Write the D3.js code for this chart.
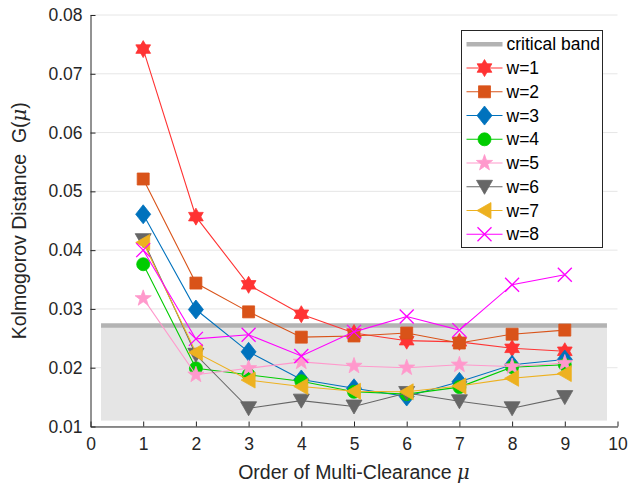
<!DOCTYPE html>
<html>
<head>
<meta charset="utf-8">
<script src="https://cdn.jsdelivr.net/npm/d3@7"></script>
<style>
body { margin: 0; background: #fff; }
svg { font-family: "Liberation Sans", Arial, sans-serif; }
</style>
</head>
<body>
<svg id="chart" width="630" height="488"></svg>
<script>
// data
var orders = [1, 2, 3, 4, 5, 6, 7, 8, 9];
var w1 = [0.0742, 0.0457, 0.0341, 0.0291, 0.0259, 0.0246, 0.0244, 0.0233, 0.0228];
var w2 = [0.0521, 0.0344, 0.0295, 0.0252, 0.0254, 0.0259, 0.0242, 0.0257, 0.0264];
var w3 = [0.0461, 0.0299, 0.0227, 0.0180, 0.0165, 0.0151, 0.0176, 0.0205, 0.0214];
var w4 = [0.0376, 0.0199, 0.0188, 0.0177, 0.0159, 0.0155, 0.0167, 0.0201, 0.0205];
var w5 = [0.0318, 0.0188, 0.0199, 0.0210, 0.0203, 0.0200, 0.0205, 0.0202, 0.0208];
var w6 = [0.0417, 0.0222, 0.0131, 0.0144, 0.0134, 0.0157, 0.0143, 0.0131, 0.0150];
var w7 = [0.0413, 0.0226, 0.0179, 0.0168, 0.0160, 0.0159, 0.0169, 0.0182, 0.0190];
var w8 = [0.0400, 0.0249, 0.0256, 0.0220, 0.0261, 0.0287, 0.0264, 0.0341, 0.0358];
var seriesNames = ["w=1", "w=2", "w=3", "w=4", "w=5", "w=6", "w=7", "w=8"];
var bandX = [0.2, 9.8];
var bandY = [0.011, 0.0272];
var xTicks = [0, 1, 2, 3, 4, 5, 6, 7, 8, 9, 10];
var yTicks = [0.01, 0.02, 0.03, 0.04, 0.05, 0.06, 0.07, 0.08];

var allSeries = [w1, w2, w3, w4, w5, w6, w7, w8];
var colors = ["#ff3333", "#d95319", "#0072bd", "#00cc00", "#ff99cc", "#666666", "#edb120", "#ff00ff"];
var shapes = ["hexagram", "square", "diamond", "circle", "star", "tridown", "trileft", "cross"];

var svg = d3.select("#chart");
var pLeft = 90.5, pRight = 617.5, pTop = 15, pBottom = 426.5;
var x = d3.scaleLinear().domain([0, 10]).range([pLeft, pRight]);
var y = d3.scaleLinear().domain([0.01, 0.08]).range([pBottom, pTop]);

// marker paths, centred on 0,0
function markerPath(type) {
    var p = d3.path();
    if (type == "hexagram") {
	var r = 8.5;
	for (var t = 0; t < 2; t++) {
	    for (var k = 0; k < 3; k++) {
		var a = -Math.PI/2 + t*Math.PI + k*2*Math.PI/3;
		if (k == 0) p.moveTo(r*Math.cos(a), r*Math.sin(a));
		else p.lineTo(r*Math.cos(a), r*Math.sin(a));
	    }
	    p.closePath();
	}
	return p.toString();
    }
    if (type == "square") { p.rect(-6, -6, 12, 12); return p.toString(); }
    if (type == "diamond") {
	p.moveTo(0, -9.5); p.lineTo(7.5, 0); p.lineTo(0, 9.5); p.lineTo(-7.5, 0); p.closePath();
	return p.toString();
    }
    if (type == "circle") { p.arc(0, 0, 6.5, 0, 2*Math.PI); return p.toString(); }
    if (type == "star") {
	for (var i = 0; i < 10; i++) {
	    var rr = i % 2 ? 3.4 : 8.5;
	    var b = -Math.PI/2 + i*Math.PI/5;
	    if (i == 0) p.moveTo(rr*Math.cos(b), rr*Math.sin(b));
	    else p.lineTo(rr*Math.cos(b), rr*Math.sin(b));
	}
	p.closePath();
	return p.toString();
    }
    if (type == "tridown") {
	p.moveTo(-8, -6.5); p.lineTo(8, -6.5); p.lineTo(0, 7.5); p.closePath();
	return p.toString();
    }
    if (type == "trileft") {
	p.moveTo(-7.5, 0); p.lineTo(6.5, -8); p.lineTo(6.5, 8); p.closePath();
	return p.toString();
    }
    // cross
    p.moveTo(-7, -7); p.lineTo(7, 7); p.moveTo(-7, 7); p.lineTo(7, -7);
    return p.toString();
}

// grid
svg.append("g").selectAll("line").data(yTicks).enter().append("line")
    .attr("x1", pLeft).attr("x2", pRight)
    .attr("y1", function(d){ return y(d); }).attr("y2", function(d){ return y(d); })
    .style("stroke", "#e6e6e6").style("stroke-width", 1);

// critical band
svg.append("rect")
    .attr("x", x(bandX[0])).attr("y", y(bandY[1]))
    .attr("width", x(bandX[1]) - x(bandX[0])).attr("height", y(bandY[0]) - y(bandY[1]))
    .style("fill", "#e5e5e5");
svg.append("line")
    .attr("x1", x(bandX[0])).attr("x2", x(bandX[1]))
    .attr("y1", y(bandY[1])).attr("y2", y(bandY[1]))
    .style("stroke", "#b3b3b3").style("stroke-width", 4.5);

// axes
var xAxis = d3.axisBottom(x).tickValues(xTicks).tickSizeInner(-5).tickSizeOuter(0).tickPadding(11)
    .tickFormat(d3.format("d"));
var gx = svg.append("g").attr("transform", "translate(0," + pBottom + ")").call(xAxis);
var yAxis = d3.axisLeft(y).tickValues(yTicks).tickSizeInner(-5).tickSizeOuter(0).tickPadding(8)
    .tickFormat(d3.format(".2f"));
var gy = svg.append("g").attr("transform", "translate(" + pLeft + ",0)").call(yAxis);
[gx, gy].forEach(function(g){
    g.select(".domain").style("stroke", "#262626");
    g.selectAll(".tick line").style("stroke", "#262626");
    g.selectAll("text").style("font-size", "17.5px").style("fill", "#262626")
	.style("font-family", "Liberation Sans, Arial, sans-serif");
});

// series
var line = d3.line().x(function(d, i){ return x(orders[i]); }).y(function(d){ return y(d); });
allSeries.forEach(function(s, k){
    var g = svg.append("g");
    g.append("path").attr("d", line(s))
	.style("fill", "none").style("stroke", colors[k]).style("stroke-width", 1.1);
    g.selectAll("path.m").data(s).enter().append("path").attr("class", "m")
	.attr("d", markerPath(shapes[k]))
	.attr("transform", function(d, i){ return "translate(" + x(orders[i]) + "," + y(d) + ")"; })
	.style("fill", shapes[k] == "cross" ? "none" : colors[k])
	.style("stroke", colors[k]).style("stroke-width", shapes[k] == "cross" ? 1.3 : 0.8);
});

// axis labels
svg.append("text").attr("x", x(5)).attr("y", 479).attr("text-anchor", "middle")
    .style("font-size", "19.5px").style("fill", "#262626")
    .html('Order of Multi-Clearance <tspan font-family="DejaVu Serif" font-style="italic">\u03bc</tspan>');
svg.append("text").attr("transform", "translate(26," + ((pTop + pBottom)/2) + ") rotate(-90)")
    .attr("text-anchor", "middle")
    .style("font-size", "19.5px").style("fill", "#262626")
    .html('Kolmogorov Distance\u00a0 G(<tspan font-family="DejaVu Serif" font-style="italic">\u03bc</tspan>)');

// legend
var lg = svg.append("g");
lg.append("rect").attr("x", 461.5).attr("y", 30.5).attr("width", 141).attr("height", 217)
    .style("fill", "#fff").style("stroke", "#262626").style("stroke-width", 1);
var rowY = function(i){ return 44.3 + i*23.75; };
lg.append("line").attr("x1", 466.5).attr("x2", 502.5).attr("y1", rowY(0)).attr("y2", rowY(0))
    .style("stroke", "#b3b3b3").style("stroke-width", 4.5);
lg.append("text").attr("x", 506.5).attr("y", rowY(0)).attr("dy", "0.35em")
    .style("font-size", "17.5px").style("fill", "#000").text("critical band");
seriesNames.forEach(function(n, k){
    var yy = rowY(k + 1);
    lg.append("line").attr("x1", 466.5).attr("x2", 502.5).attr("y1", yy).attr("y2", yy)
	.style("stroke", colors[k]).style("stroke-width", 1.1);
    lg.append("path").attr("d", markerPath(shapes[k]))
	.attr("transform", "translate(484.5," + yy + ")")
	.style("fill", shapes[k] == "cross" ? "none" : colors[k])
	.style("stroke", colors[k]).style("stroke-width", shapes[k] == "cross" ? 1.3 : 0.8);
    lg.append("text").attr("x", 506.5).attr("y", yy).attr("dy", "0.35em")
	.style("font-size", "17.5px").style("fill", "#000").text(n);
});
</script>
</body>
</html>
